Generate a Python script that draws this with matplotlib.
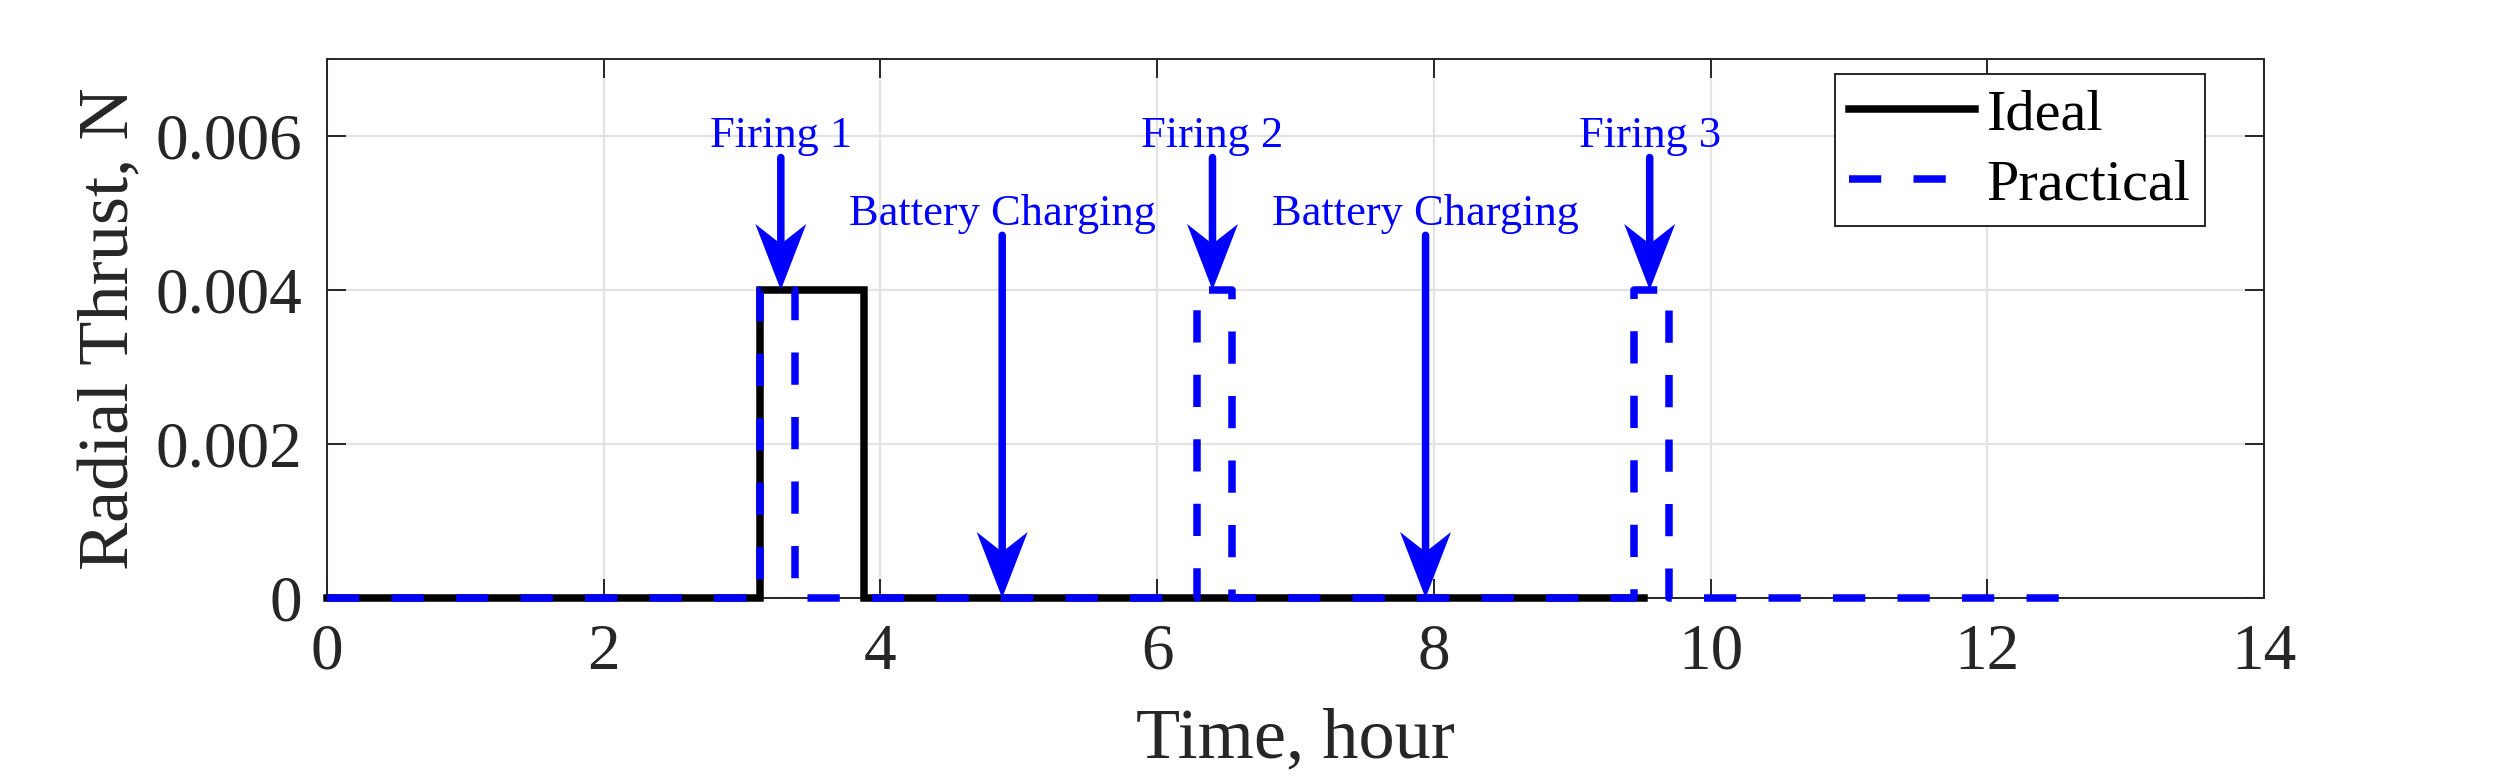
import matplotlib
matplotlib.use("Agg")
import matplotlib.pyplot as plt
import matplotlib.transforms as mtransforms
from matplotlib.patches import Polygon

plt.rcParams['font.family'] = ['Liberation Serif', 'DejaVu Serif']

# thrust profiles (step corners): time in hours, thrust in N
ideal_t = [0, 3.13, 3.13, 3.88, 3.88, 9.52]
ideal_f = [0, 0, 0.004, 0.004, 0, 0]
practical_t = [0, 3.13, 3.13, 3.38, 3.38, 6.29, 6.29, 6.54, 6.54,
               9.45, 9.45, 9.70, 9.70, 12.62]
practical_f = [0, 0, 0.004, 0.004, 0, 0, 0.004, 0.004, 0, 0,
               0.004, 0.004, 0, 0]

# annotations: label, arrow x, text baseline, arrow tail, arrow tip
note_labels = ["Firing 1", "Battery Charging", "Firing 2", "Battery Charging", "Firing 3"]
note_x = [3.28, 4.88, 6.40, 7.94, 9.56]
note_text_y = [0.00586, 0.00484, 0.00586, 0.00484, 0.00586]
note_tail_y = [0.00572, 0.00471, 0.00572, 0.00471, 0.00572]
note_tip_y = [0.004, 0.0, 0.004, 0.0, 0.004]

y_ticks = [0, 0.002, 0.004, 0.006]
y_tick_labels = ['0', '0.002', '0.004', '0.006']
x_ticks = [0, 2, 4, 6, 8, 10, 12, 14]

dark = '#262626'
blue = '#0000ff'

fig = plt.figure(figsize=(12.5, 3.905), dpi=200)
ax = fig.add_axes([0.1308, 0.2343, 0.7748, 0.6902])

# lines are not clipped at the axes box (MATLAB style), so y=0 shows full width
ax.plot(ideal_t, ideal_f, color='black', lw=2.7, label='Ideal',
        solid_joinstyle='miter', zorder=3, clip_on=False)
ax.plot(practical_t, practical_f, color=blue, lw=2.7, ls=(0, (4.3, 4.3)),
        label='Practical', zorder=4, clip_on=False)

ax.set_xlim(0, 14)
ax.set_ylim(0, 0.007)
ax.set_xticks(x_ticks)
ax.set_yticks(y_ticks)
ax.set_yticklabels(y_tick_labels)

ax.grid(True, color='#e3e3e3', lw=0.8)
ax.set_axisbelow(True)
ax.tick_params(direction='in', length=7, width=0.7, top=True, right=True,
               color=dark, labelcolor=dark, labelsize=23.5, pad=9)
for sp in ax.spines.values():
    sp.set_color(dark)
    sp.set_linewidth(0.7)

ax.set_xlabel('Time, hour', fontsize=26, color=dark, labelpad=9)
ax.set_ylabel('Radial Thrust, N', fontsize=26, color=dark)
ax.yaxis.set_label_coords(-0.095, 0.5)

# arrows with a notched head, sized in inches so they keep their shape
head = [(0, 0), (-0.1275, 0.33), (0, 0.23), (0.1275, 0.33)]
for lab, x, ty, tail, tip in zip(note_labels, note_x, note_text_y, note_tail_y, note_tip_y):
    ax.text(x, ty, lab, color=blue, fontsize=16, ha='center', va='baseline', zorder=6)
    ax.annotate('', xy=(x, tip), xytext=(x, tail),
                arrowprops=dict(arrowstyle='-', color=blue, lw=2.7,
                                shrinkA=0, shrinkB=14), zorder=6)
    tr = fig.dpi_scale_trans + mtransforms.ScaledTranslation(x, tip, ax.transData)
    ax.add_artist(Polygon(head, closed=True, transform=tr, color=blue,
                          lw=0, zorder=7, clip_on=False))

leg = ax.legend(loc='upper right', bbox_to_anchor=(0.9695, 0.972),
                borderaxespad=0, fontsize=21, handlelength=2.15,
                handletextpad=0.2, borderpad=0.25, labelspacing=0.3,
                fancybox=False, framealpha=1)
leg.get_frame().set_edgecolor(dark)
leg.get_frame().set_linewidth(0.7)

fig.savefig('out.png', dpi=200)
